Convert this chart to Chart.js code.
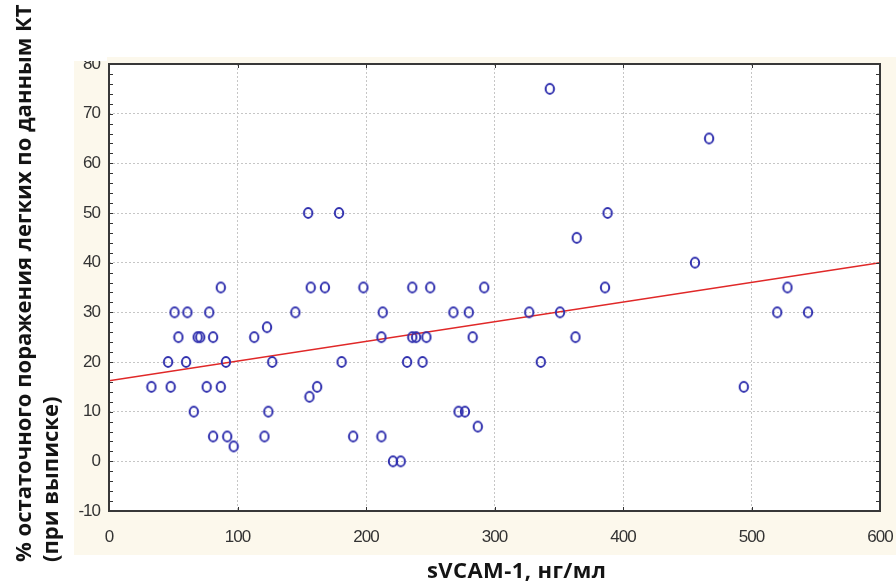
<!DOCTYPE html>
<html>
<head>
<meta charset="utf-8">
<script src="https://cdn.jsdelivr.net/npm/chart.js@4/dist/chart.umd.min.js"></script>
<style>
  body { margin: 0; background: #fff; }
  #wrap { position: relative; width: 896px; height: 583px; overflow: hidden; }
  #c { position: absolute; left: 0; top: 0; }
  .ytitle {
    position: absolute; left: 9px; top: 562px;
    transform-origin: 0 0; transform: rotate(-90deg);
    font: bold 22px "Open Sans", sans-serif; line-height: 27px;
    white-space: nowrap; color: #141414;
  }
  .xtitle {
    position: absolute; left: 427px; top: 555px;
    font: bold 22px "Open Sans", sans-serif; line-height: 28px;
    letter-spacing: 0.4px;
    white-space: nowrap; color: #141414;
  }
</style>
</head>
<body>
<div id="wrap">
  <canvas id="c" width="896" height="583"></canvas>
  <div class="ytitle">% остаточного поражения легких по данным КТ<br>(при выписке)</div>
  <div class="xtitle">sVCAM-1, нг/мл</div>
</div>
<script>
// sVCAM-1 (нг/мл) и % остаточного поражения по КТ
const vcam = [33, 46, 48, 51, 54, 60, 61, 66, 69, 71, 76, 78, 81, 81, 87, 87, 91, 92, 97,
  113, 121, 123, 124, 127, 145, 155, 156, 157, 162, 168, 179, 181, 190, 198,
  212, 212, 213, 221, 227, 232, 236, 236, 239, 244, 247, 250, 268, 272, 277, 280, 283, 287, 292,
  327, 336, 343, 351, 363, 364, 386, 388, 456, 467, 494, 520, 528, 544];
const lesion = [15, 20, 15, 30, 25, 20, 30, 10, 25, 25, 15, 30, 25, 5, 35, 15, 20, 5, 3,
  25, 5, 27, 10, 20, 30, 50, 13, 35, 15, 35, 50, 20, 5, 35,
  25, 5, 30, 0, 0, 20, 35, 25, 25, 20, 25, 35, 30, 10, 10, 30, 25, 7, 35,
  30, 20, 75, 30, 25, 45, 35, 50, 40, 65, 15, 30, 35, 30];

// линия регрессии (концы)
const fitX = [0, 600];
const fitY = [16.2, 40];

const xTicks = [0, 100, 200, 300, 400, 500, 600];
const yTicks = [-10, 0, 10, 20, 30, 40, 50, 60, 70, 80];

// маркер - слегка вытянутое кольцо
function makeRing() {
  const cv = document.createElement('canvas');
  cv.width = 12; cv.height = 14;
  const g = cv.getContext('2d');
  g.strokeStyle = '#3030ae';
  g.lineWidth = 2;
  g.beginPath();
  g.ellipse(6, 7, 4.2, 4.9, 0, 0, Math.PI * 2);
  g.stroke();
  return cv;
}

const framePlugin = {
  id: 'framePlugin',
  beforeDraw(chart) {
    const { ctx, chartArea: a } = chart;
    ctx.save();
    ctx.fillStyle = '#ffffff';
    ctx.fillRect(0, 0, chart.width, chart.height);
    ctx.fillStyle = '#fcf8ec';
    ctx.fillRect(74, 57, chart.width - 74, 498);
    ctx.fillStyle = '#ffffff';
    ctx.fillRect(a.left, a.top, a.right - a.left, a.bottom - a.top);
    ctx.restore();
    // подписи делений поуже
    ctx.letterSpacing = '-1px';
  },
  afterDraw(chart) {
    const { ctx, chartArea: a } = chart;
    const xs = chart.scales.x, ys = chart.scales.y;
    ctx.save();
    ctx.strokeStyle = '#333';
    ctx.lineWidth = 1;
    ctx.beginPath();
    // мелкие засечки слева и справа
    for (let v = -10; v <= 80; v += 2) {
      const y = Math.round(ys.getPixelForValue(v)) + 0.5;
      ctx.moveTo(a.left, y); ctx.lineTo(a.left + 4, y);
      ctx.moveTo(a.right - 4, y); ctx.lineTo(a.right, y);
    }
    // засечки сверху и снизу
    xTicks.forEach(v => {
      const x = Math.round(xs.getPixelForValue(v)) + 0.5;
      ctx.moveTo(x, a.top); ctx.lineTo(x, a.top + 4);
      ctx.moveTo(x, a.bottom - 4); ctx.lineTo(x, a.bottom);
    });
    ctx.stroke();
    ctx.lineWidth = 2;
    ctx.strokeStyle = '#383838';
    ctx.strokeRect(a.left, a.top, a.right - a.left, a.bottom - a.top);
    // верх обрезан
    ctx.fillStyle = '#ffffff';
    ctx.fillRect(70, 0, chart.width - 70, 57);
    ctx.fillRect(70, 0, a.left - 72, 61);
    ctx.restore();
  }
};

const tickFont = { family: '"Liberation Sans Narrow", "Arial Narrow", "Liberation Sans", Arial, sans-serif', size: 17 };

new Chart(document.getElementById('c'), {
  type: 'scatter',
  data: {
    datasets: [{
      data: vcam.map((v, i) => ({ x: v, y: lesion[i] })),
      pointStyle: makeRing(),
      pointRadius: 5,
      order: 1
    }, {
      type: 'line',
      data: fitX.map((v, i) => ({ x: v, y: fitY[i] })),
      borderColor: '#e02828',
      borderWidth: 1.5,
      pointRadius: 0,
      fill: false,
      order: 2
    }]
  },
  options: {
    responsive: false,
    devicePixelRatio: 1,
    animation: false,
    layout: { padding: { left: 0, top: 64, right: 16, bottom: 0 } },
    plugins: { legend: { display: false }, tooltip: { enabled: false } },
    scales: {
      x: {
        type: 'linear', min: 0, max: 600,
        afterFit: s => { s.height = 72; s.paddingLeft = 0; s.paddingRight = 0; },
        afterBuildTicks: s => { s.ticks = xTicks.map(v => ({ value: v })); },
        grid: { color: '#c6c6c6', drawTicks: false, lineWidth: 1 },
        border: { display: false, dash: [2, 2] },
        ticks: { font: tickFont, color: '#333333', padding: 16, maxRotation: 0 }
      },
      y: {
        type: 'linear', min: -10, max: 80,
        afterFit: s => { s.width = 109; s.paddingTop = 0; s.paddingBottom = 0; },
        afterBuildTicks: s => { s.ticks = yTicks.map(v => ({ value: v })); },
        grid: { color: '#c6c6c6', drawTicks: false, lineWidth: 1 },
        border: { display: false, dash: [2, 2] },
        ticks: { font: tickFont, color: '#333333', padding: 9 }
      }
    }
  },
  plugins: [framePlugin]
});
</script>
</body>
</html>
